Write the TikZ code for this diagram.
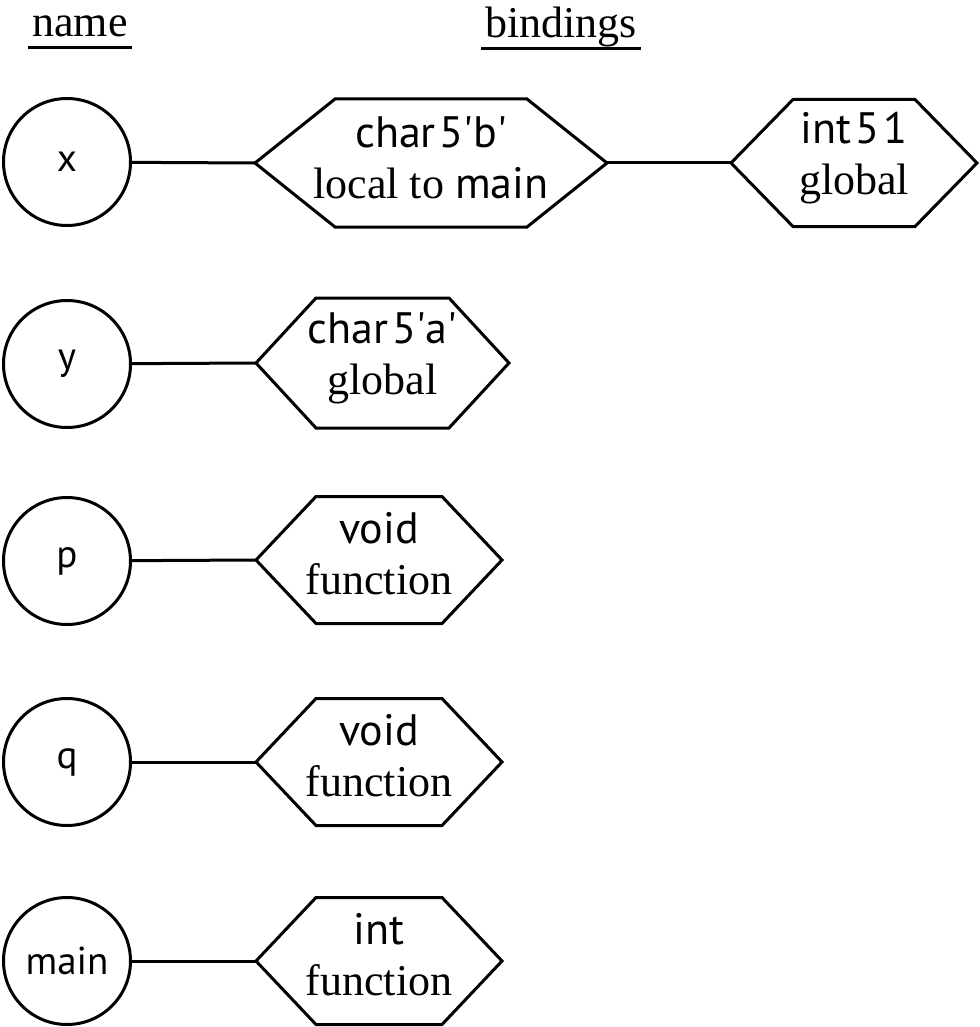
\documentclass[tikz,border=0pt]{standalone}
\usepackage{fontspec}
\setmainfont{Liberation Serif}
\setsansfont{PT Sans}
\newcommand{\tightsp}{\kern4pt}
\begin{document}
\begin{tikzpicture}[x=1pt,y=-1pt,
  edge/.style={line width=3pt},
  rule/.style={line width=3pt},
  namecirc/.style={circle, draw, line width=3pt, minimum size=127pt,
    inner sep=0pt, font=\sffamily\fontsize{39}{46}\selectfont},
  hexbox/.style={inner sep=0pt, outer sep=0pt},
  bindtext/.style={inner sep=0pt, align=center,
    font=\fontsize{44}{51}\selectfont},
  headtext/.style={inner xsep=4pt, inner ysep=0pt, anchor=base,
    font=\fontsize{44}{49}\selectfont}]
\useasboundingbox (0,0) rectangle (979,1027);

% column headings
\node[headtext] (hname) at (80,37) {name};
\node[headtext] (hbind) at (561,38) {bindings};
\draw[rule] ([yshift=-11pt]hname.base west) -- ([yshift=-11pt]hname.base east);
\draw[rule] ([yshift=-11pt]hbind.base west) -- ([yshift=-11pt]hbind.base east);

% names
\node[namecirc] (nx)    at (67,162) {x};
\node[namecirc] (ny)    at (67,364) {y};
\node[namecirc] (np)    at (67,561) {p};
\node[namecirc] (nq)    at (67,762) {q};
\node[namecirc] (nmain) at (67,961) {main};

% binding boxes (outlined as hexagons below)
\node[hexbox, minimum width=352pt, minimum height=128pt] (bx1)   at (431,163) {};
\node[hexbox, minimum width=246pt, minimum height=127pt] (bx2)   at (854,163) {};
\node[hexbox, minimum width=253pt, minimum height=130pt] (by)    at (382.5,363) {};
\node[hexbox, minimum width=246pt, minimum height=127pt] (bp)    at (379,560) {};
\node[hexbox, minimum width=246pt, minimum height=127pt] (bq)    at (379,762) {};
\node[hexbox, minimum width=246pt, minimum height=127pt] (bmain) at (379,961) {};

% binding texts
\node[bindtext] (tx1) at ([yshift=5pt]bx1.center)
  {{\sffamily char\tightsp 5\textquotesingle b\textquotesingle}\\local to {\sffamily main}};
\node[bindtext] (tx2) at ([yshift=5pt]bx2.center)
  {{\sffamily int\tightsp 5\tightsp 1}\\global};
\node[bindtext] (ty) at ([yshift=5pt]by.center)
  {{\sffamily char\tightsp 5\textquotesingle a\textquotesingle}\\global};
\node[bindtext] (tp) at ([yshift=6pt]bp.center)
  {{\sffamily void}\\function};
\node[bindtext] (tq) at ([yshift=6pt]bq.center)
  {{\sffamily void}\\function};
\node[bindtext] (tmain) at ([yshift=6pt]bmain.center)
  {{\sffamily int}\\function};

% hexagon outlines
\foreach \b/\s in {bx1/80, bx2/62, by/60, bp/60, bq/60, bmain/60}
  \draw[edge, line join=miter]
    (\b.west) -- ([xshift=\s pt]\b.north west) -- ([xshift=-\s pt]\b.north east)
    -- (\b.east) -- ([xshift=-\s pt]\b.south east) -- ([xshift=\s pt]\b.south west)
    -- cycle;

% connectors
\draw[edge] (nx) -- (bx1.west);
\draw[edge] (bx1.east) -- (bx2.west);
\draw[edge] (ny) -- (by.west);
\draw[edge] (np) -- (bp.west);
\draw[edge] (nq) -- (bq.west);
\draw[edge] (nmain) -- (bmain.west);
\end{tikzpicture}
\end{document}
